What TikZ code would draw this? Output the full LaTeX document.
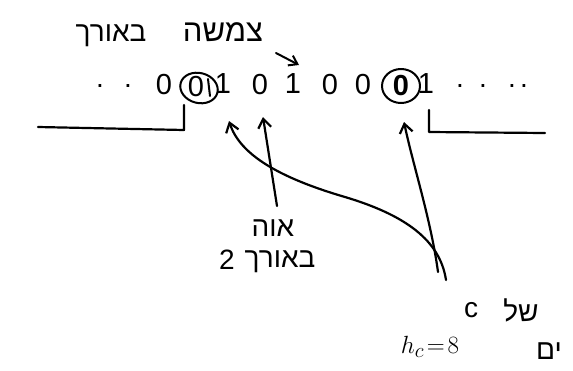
\documentclass[tikz,border=0pt]{standalone}
\usepackage{fontspec}
\setmainfont{Liberation Sans}
\newfontfamily\hebfont[Script=Hebrew]{Liberation Sans}
\TeXXeTstate=1
\usetikzlibrary{arrows.meta}
\begin{document}
\begin{tikzpicture}[x=1pt,y=-1pt,line width=2.2pt,line cap=round,line join=round,
  heb/.style={font=\hebfont\fontsize{28}{30}\selectfont,inner sep=0pt},
  lat/.style={font=\fontsize{28}{30}\selectfont,inner sep=0pt},
  bit/.style={font=\fontsize{29}{31}\selectfont,inner sep=0pt},
  dotm/.style={font=\fontsize{28}{30}\selectfont,inner sep=0pt},
  ptr/.style={-{Straight Barb[length=9pt,width=13pt]}}]
\useasboundingbox (0,0) rectangle (573,370);
% top text
\node[heb] (wlen) at (111,36) {\beginR באורך\endR};
\node[heb,font=\hebfont\fontsize{31}{33}\selectfont] (wseq) at (223,32) {\beginR צמשה\endR};
\coordinate (topA) at (276,53);
\coordinate (topB) at (299,65);
\draw[-{Straight Barb[length=8pt,width=11pt]},line width=2pt] (topA) -- (topB);
% bit row
\node[dotm] (d1) at (100,86) {.};
\node[dotm] (d2) at (128,86) {.};
\node[bit] (b1) at (164,85) {0};
\node[bit] (b2) at (196,87) {0};
\draw[line width=2pt] (208,79) -- (210,96);
\draw[line width=2pt,rotate around={-15:(199,88)}] (199,88) ellipse [x radius=19,y radius=15];
\node[bit] (b3) at (223,84) {1};
\node[bit] (b4) at (260,85) {0};
\node[bit] (b5) at (293,84) {1};
\node[bit] (b6) at (330,85) {0};
\node[bit] (b7) at (363,85) {0};
\node[bit,font=\bfseries\fontsize{29}{31}\selectfont] (b8) at (401,86) {0};
\draw[line width=2pt] (401,86) ellipse [x radius=19,y radius=17];
\node[bit] (b9) at (426,84) {1};
\node[dotm] (d3) at (460,86) {.};
\node[dotm] (d4) at (483,86) {.};
\node[dotm] (d5) at (512,86) {.};
\node[dotm] (d6) at (524,86) {.};
% brackets
\coordinate (lb1) at (38,127);
\coordinate (lb2) at (184,130);
\coordinate (lb3) at (184,105);
\draw (lb1) -- (lb2) -- (lb3);
\coordinate (rb1) at (429,110);
\coordinate (rb2) at (429,132);
\coordinate (rb3) at (545,133);
\draw (rb1) -- (rb2) -- (rb3);
% middle label
\node[heb] (mtop) at (273,228) {\beginR אוה\endR};
\node[heb] (mbot) at (280,262) {\beginR באורך\endR};
\node[lat] (mtwo) at (227,260) {2};
\coordinate (msrc) at (277,206);
\coordinate (mtip) at (263,117);
\draw[ptr] (msrc) -- (mtip);
% bottom label
\node[lat] (cc) at (471,310) {c};
\node[heb] (shel) at (521,310) {\beginR של\endR};
\node[lat,font=\fontsize{31}{33}\selectfont] (hc) at (430,347) {$h_c\!=\!8$};
\node[heb] (yam) at (549,351) {\beginR ים\endR};
\coordinate (srcL) at (446,280);
\coordinate (srcR) at (438,272);
\coordinate (tipL) at (229,121);
\coordinate (tipR) at (404,122);
\draw[ptr] (srcL) .. controls (440,240) and (405,215) .. (345,197)
  .. controls (280,178) and (240,155) .. (tipL);
\draw[ptr] (srcR) .. controls (431,220) and (413,165) .. (tipR);
\end{tikzpicture}
\end{document}
